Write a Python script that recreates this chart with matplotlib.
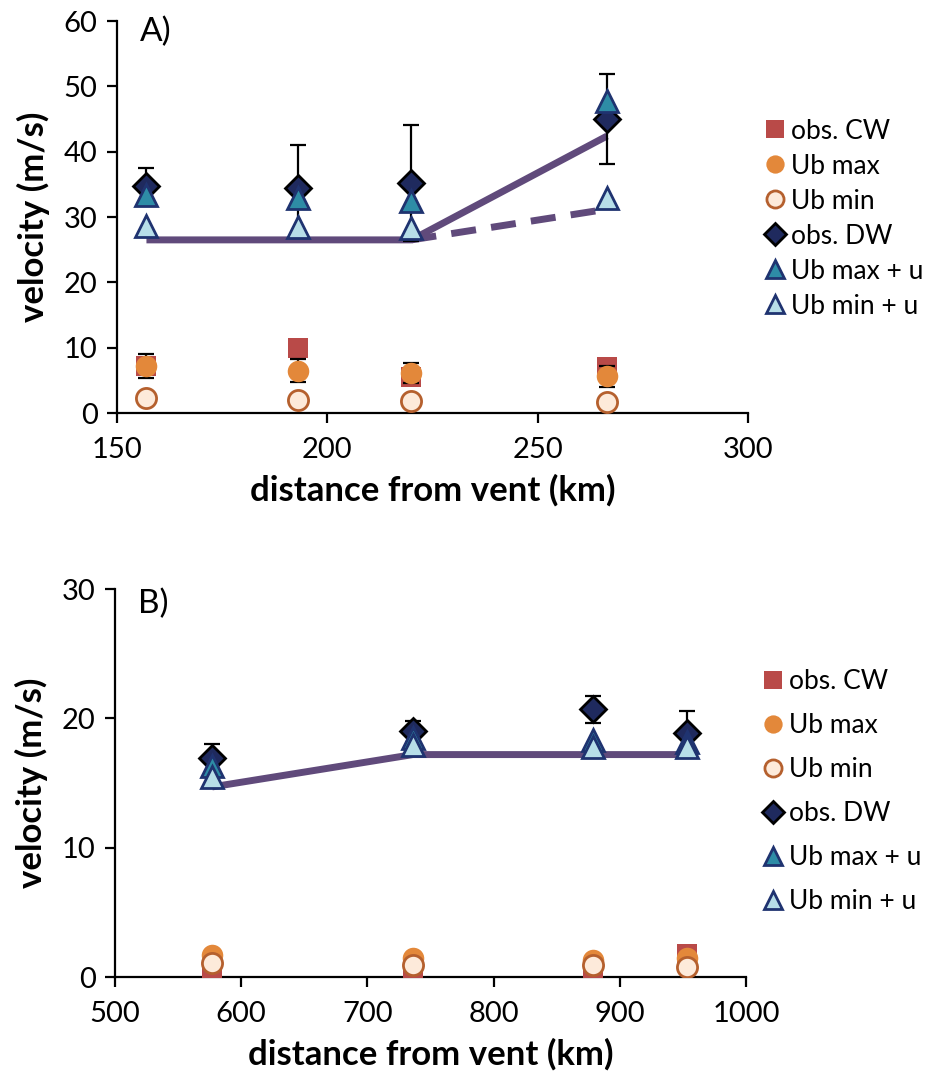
import matplotlib
matplotlib.use('Agg')
import matplotlib.pyplot as plt
from matplotlib.lines import Line2D

plt.rcParams['font.family'] = ['Lato', 'DejaVu Sans']

# panel A
dist_a = [157, 193, 220, 266.5]
cw_a = [7.25, 9.9, 5.5, 7.1]
ubmax_a = [7.2, 6.5, 6.1, 5.6]
ubmax_err_a = [1.8, 1.7, 1.5, 1.6]
ubmin_a = [2.25, 2.0, 1.9, 1.7]
dw_a = [34.8, 34.4, 35.2, 45.0]
dw_err_a = [2.7, 6.7, 8.9, 6.9]
ubmaxu_a = [33.4, 32.9, 32.4, 47.7]
ubminu_a = [28.7, 28.4, 28.3, 32.9]
line_x_a = [157, 220, 266.5]
line_y_a = [26.5, 26.5, 42.4]
dash_x_a = [220, 266.5]
dash_y_a = [26.5, 31.2]

# panel B
dist_b = [577, 736, 879, 953]
cw_b = [0.6, 0.6, 0.3, 1.8]
ubmax_b = [1.7, 1.45, 1.3, 1.45]
ubmin_b = [1.06, 0.93, 0.93, 0.8]
dw_b = [16.9, 19.0, 20.7, 18.9]
dw_err_b = [1.1, 0.8, 1.05, 1.7]
ubmaxu_b = [16.3, 18.5, 18.3, 18.2]
ubminu_b = [15.5, 17.96, 17.8, 17.8]
line_x_b = [577, 736, 953]
line_y_b = [14.7, 17.2, 17.2]

labels = ['obs. CW', 'Ub max', 'Ub min', 'obs. DW', 'Ub max + u', 'Ub min + u']

# estilos
c_line = '#604A7B'
styles = [
    dict(marker='s', ms=15, mfc='#B94A48', mec='#B94A48', mew=0),
    dict(marker='o', ms=15.5, mfc='#E3883A', mec='#E3883A', mew=0),
    dict(marker='o', ms=14.5, mfc='#FDEADA', mec='#B5602E', mew=2),
    dict(marker='D', ms=13.5, mfc='#1F2A5E', mec='black', mew=2),
    dict(marker='^', ms=15.5, mfc='#2E8CA6', mec='#1F3370', mew=2),
    dict(marker='^', ms=15.5, mfc='#B7DEE8', mec='#1F3370', mew=2),
]


def panel(ax, x, series, errs, lines, xlim, xticks, ylim, yticks, tag, leg_y, spacing):
    for lx, ly, ls in lines:
        ax.plot(lx, ly, color=c_line, lw=5, ls=ls, zorder=2,
                dashes=(3.6, 2.2) if ls == '--' else (None, None), solid_capstyle='butt')
    for i, (y, st) in enumerate(zip(series, styles)):
        if errs[i] is not None:
            ax.errorbar(x, y, yerr=errs[i], fmt='none', ecolor='black', elinewidth=1.6,
                        capsize=6, capthick=1.6, zorder=3 + i)
        ax.plot(x, y, ls='none', zorder=3 + i, **st)
    ax.set_xlim(*xlim)
    ax.set_ylim(*ylim)
    ax.set_xticks(xticks)
    ax.set_yticks(yticks)
    for s in ['top', 'right']:
        ax.spines[s].set_visible(False)
    for s in ['left', 'bottom']:
        ax.spines[s].set_linewidth(1.6)
    ax.tick_params(direction='out', length=7, width=1.6, labelsize=21)
    ax.tick_params(axis='x', pad=10)
    ax.tick_params(axis='y', pad=7)
    ax.set_xlabel('distance from vent (km)', fontsize=25, fontweight='bold', labelpad=8)
    ax.set_ylabel('velocity (m/s)', fontsize=25, fontweight='bold', labelpad=10)
    ax.text(0.036, tag[1], tag[0], transform=ax.transAxes, fontsize=24, va='center', ha='left')
    handles = [Line2D([], [], ls='none', **st) for st in styles]
    ax.legend(handles, labels, loc='center left', bbox_to_anchor=(1.005, leg_y), frameon=False,
              fontsize=19, handlelength=0.8, handletextpad=0.2, labelspacing=spacing,
              borderpad=0, markerscale=0.85)


fig = plt.figure(figsize=(9.39, 10.84), dpi=100)
ax1 = fig.add_axes([0.1246, 0.6190, 0.672, 0.3616])
ax2 = fig.add_axes([0.1225, 0.0987, 0.672, 0.3579])

panel(ax1, dist_a, [cw_a, ubmax_a, ubmin_a, dw_a, ubmaxu_a, ubminu_a],
      [None, ubmax_err_a, None, dw_err_a, None, None],
      [(line_x_a, line_y_a, '-'), (dash_x_a, dash_y_a, '--')],
      (150, 300), [150, 200, 250, 300], (0, 60), range(0, 61, 10), ('A)', 0.972), 0.496, 0.38)
panel(ax2, dist_b, [cw_b, ubmax_b, ubmin_b, dw_b, ubmaxu_b, ubminu_b],
      [None, None, None, dw_err_b, None, None],
      [(line_x_b, line_y_b, '-')],
      (500, 1000), range(500, 1001, 100), (0, 30), [0, 10, 20, 30], ('B)', 0.961), 0.478, 0.72)

fig.savefig('out.png', dpi=100)
